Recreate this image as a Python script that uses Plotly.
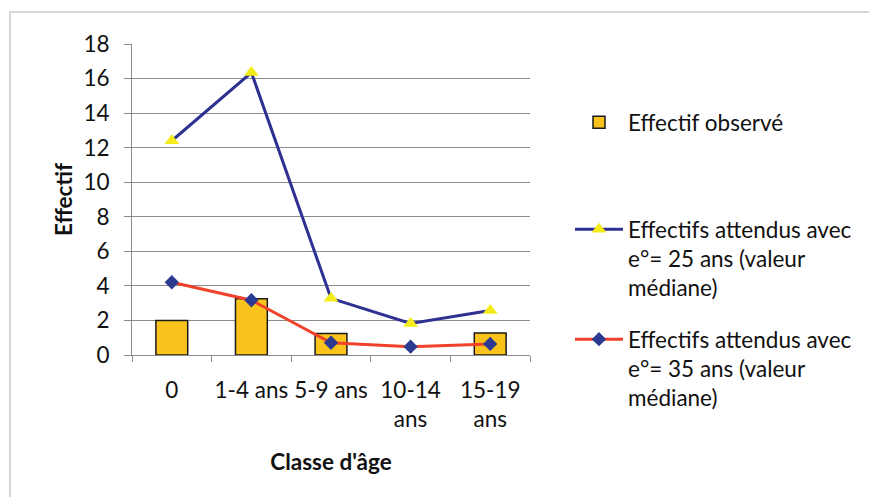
import plotly.graph_objects as go

categories = ["0", "1-4 ans", "5-9 ans", "10-14<br>ans", "15-19<br>ans"]
observed = [2, 3.25, 1.25, 0, 1.28]
expected_25 = [12.4, 16.35, 3.28, 1.83, 2.57]
expected_35 = [4.21, 3.17, 0.71, 0.48, 0.64]

FONT = "Lato"
FS = 22.5
OFF = 8  # page body margin

# target plot area on screen
PX0, PX1, PY0, PY1 = 132, 530, 44, 355
W, H = 877 - OFF, 497 - OFF
L = PX0 - OFF
T = PY0 - OFF
R = W - (PX1 - OFF)
B = H - (PY1 - OFF)

fig = go.Figure()
fig.add_trace(go.Bar(
    x=categories, y=observed, name="Effectif observé",
    marker=dict(color="#F9C31C",
                line=dict(color="#1a1a1a", width=[0 if v == 0 else 1.5 for v in observed])),
    width=0.4, legend="legend",
))
fig.add_trace(go.Scatter(
    x=categories, y=expected_25, mode="lines+markers",
    name="Effectifs attendus avec<br>e°= 25 ans (valeur<br>médiane)",
    line=dict(color="#2E3192", width=3),
    marker=dict(symbol="triangle-up", size=13, color="#F4EC1A"),
    legend="legend2",
))
fig.add_trace(go.Scatter(
    x=categories, y=expected_35, mode="lines+markers",
    name="Effectifs attendus avec<br>e°= 35 ans (valeur<br>médiane)",
    line=dict(color="#F0412A", width=3),
    marker=dict(symbol="diamond", size=11, color="#2B3990"),
    legend="legend3",
))

legend_common = dict(
    xref="paper", yref="paper", xanchor="left", yanchor="top",
    font=dict(family=FONT, size=FS, color="#111"),
    bgcolor="rgba(0,0,0,0)", itemwidth=48, valign="top",
    itemclick=False, itemdoubleclick=False,
)

def lx(px):
    return (px - PX0) / (PX1 - PX0)

def ly(py):
    return (PY1 - py) / (PY1 - PY0)

fig.update_layout(
    width=W, height=H,
    margin=dict(l=L, r=R, t=T, b=B, autoexpand=False),
    paper_bgcolor="white", plot_bgcolor="white",
    font=dict(family=FONT, size=FS, color="#111"),
    showlegend=True,
    legend=dict(x=lx(570), y=ly(101), **legend_common),
    legend2=dict(x=lx(570), y=ly(208), **legend_common),
    legend3=dict(x=lx(570), y=ly(318), **legend_common),
    xaxis=dict(
        type="category", range=[-0.5, 4.5],
        showline=True, linecolor="#8c8c8c", linewidth=1,
        ticks="outside", tickson="boundaries", ticklen=6, tickcolor="#8c8c8c",
        tickangle=0, ticklabelstandoff=15,
        tickfont=dict(family=FONT, size=FS, color="#111"),
        title=dict(text="<b>Classe d'âge</b>", font=dict(family=FONT, size=FS, color="#111"), standoff=22),
        showgrid=False,
    ),
    yaxis=dict(
        range=[0, 18], dtick=2,
        showline=True, linecolor="#8c8c8c", linewidth=1,
        ticks="outside", ticklen=7, tickcolor="#8c8c8c",
        ticklabelstandoff=10,
        gridcolor="#8c8c8c", gridwidth=1,
        tickfont=dict(family=FONT, size=FS, color="#111"),
        title=dict(text="<b>Effectif</b>", font=dict(family=FONT, size=FS, color="#111"), standoff=4),
        zeroline=False,
    ),
    shapes=[dict(type="rect", xref="paper", yref="paper",
                 x0=lx(10), x1=lx(890), y0=ly(12), y1=ly(510),
                 line=dict(color="#c8c8c8", width=1.5))],
)
fig.write_html("out.html")
